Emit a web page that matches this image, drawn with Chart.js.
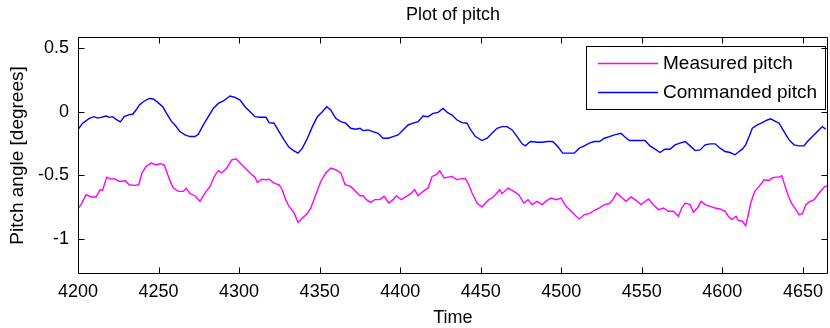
<!DOCTYPE html>
<html>
<head>
<meta charset="utf-8">
<script src="https://cdn.jsdelivr.net/npm/chart.js@4/dist/chart.umd.min.js"></script>
<style>
  html, body { margin: 0; padding: 0; background: #fff; }
  #wrap { width: 830px; height: 328px; }
</style>
</head>
<body>
<div id="wrap"><canvas id="grafico" width="830" height="328"></canvas></div>
<script>
// values
const commandedTime = [
  4200, 4202.9, 4207.0, 4210.1, 4212.2, 4214.3, 4217.4, 4219.4, 4221.5, 4223.6,
  4226.3, 4228.7, 4231.8, 4234.0, 4236.0, 4238.1, 4241.2, 4244.3, 4246.8, 4249.5,
  4252.6, 4254.6, 4257.7, 4260.2, 4263.3, 4266.4, 4269.5, 4272.6, 4274.7, 4277.8,
  4280.9, 4284.0, 4287.1, 4290.2, 4294.4, 4297.5, 4300.6, 4303.7, 4306.8, 4309.9,
  4313.0, 4316.7, 4318.6, 4321.7, 4324.8, 4327.9, 4331.0, 4334.1, 4336.6, 4339.3,
  4342.4, 4345.5, 4348.6, 4351.7, 4354.4, 4356.9, 4360.0, 4363.1, 4366.2, 4369.3,
  4372.4, 4375.1, 4376.9, 4380.0, 4383.1, 4386.3, 4389.4, 4392.5, 4395.6, 4398.7,
  4401.8, 4404.9, 4408.0, 4411.1, 4414.2, 4417.3, 4420.4, 4423.5, 4426.6, 4429.7,
  4432.2, 4435.3, 4438.4, 4441.5, 4443.6, 4446.7, 4450.8, 4454.0, 4457.0, 4460.1,
  4463.2, 4466.3, 4469.5, 4472.6, 4475.7, 4477.7, 4480.8, 4485.0, 4488.1, 4491.2,
  4494.7, 4497.8, 4500.9, 4504.0, 4508.1, 4511.2, 4514.3, 4517.4, 4520.6, 4523.7,
  4526.8, 4529.9, 4533.0, 4537.1, 4539.2, 4542.3, 4545.4, 4549.5, 4552.0, 4555.1,
  4558.2, 4561.3, 4564.4, 4567.5, 4570.6, 4573.7, 4576.9, 4580.0, 4583.1, 4586.2,
  4589.3, 4592.4, 4595.5, 4598.6, 4601.7, 4604.8, 4607.9, 4610.4, 4612.4, 4614.5,
  4616.6, 4618.6, 4621.7, 4624.8, 4627.9, 4630.0, 4633.2, 4635.2, 4638.3, 4641.4,
  4644.5, 4647.6, 4650.7, 4652.8, 4655.9, 4659.0, 4662.1, 4664.2
];
const commandedPitch = [
  -0.14, -0.09, -0.052, -0.039, -0.05, -0.044, -0.034, -0.044, -0.039, -0.06,
  -0.08, -0.039, -0.023, -0.02, 0.013, 0.052, 0.084, 0.104, 0.10, 0.073,
  0.04, -0.005, -0.07, -0.104, -0.156, -0.182, -0.195, -0.195, -0.177, -0.104,
  -0.039, 0.026, 0.065, 0.084, 0.123, 0.112, 0.091, 0.039, 0, -0.039,
  -0.044, -0.044, -0.086, -0.09, -0.156, -0.221, -0.279, -0.307, -0.325, -0.286,
  -0.208, -0.117, -0.039, 0, 0.039, 0.013, -0.052, -0.078, -0.09, -0.13,
  -0.138, -0.13, -0.148, -0.143, -0.156, -0.169, -0.208, -0.208, -0.195, -0.182,
  -0.143, -0.104, -0.09, -0.078, -0.034, -0.039, -0.013, -0.005, 0.026, -0.01,
  -0.026, -0.065, -0.086, -0.09, -0.138, -0.195, -0.226, -0.208, -0.169, -0.13,
  -0.117, -0.117, -0.143, -0.195, -0.252, -0.268, -0.234, -0.239, -0.239, -0.234,
  -0.234, -0.273, -0.325, -0.325, -0.325, -0.286, -0.268, -0.247, -0.234, -0.234,
  -0.208, -0.195, -0.182, -0.169, -0.195, -0.226, -0.226, -0.226, -0.226, -0.268,
  -0.294, -0.32, -0.294, -0.294, -0.26, -0.247, -0.234, -0.268, -0.305, -0.30,
  -0.26, -0.252, -0.252, -0.286, -0.312, -0.32, -0.338, -0.312, -0.294, -0.26,
  -0.195, -0.13, -0.104, -0.086, -0.065, -0.056, -0.078, -0.09, -0.156, -0.221,
  -0.26, -0.268, -0.268, -0.234, -0.195, -0.156, -0.117, -0.138
];
const measuredTime = [
  4200, 4201.9, 4205.0, 4208.1, 4211.2, 4213.7, 4215.3, 4217.8, 4220.5, 4222.5,
  4225.6, 4229.4, 4231.8, 4235.0, 4237.7, 4239.7, 4242.2, 4245.3, 4248.4, 4251.5,
  4253.6, 4255.7, 4257.7, 4259.2, 4262.3, 4265.4, 4267.1, 4269.5, 4272.6, 4275.7,
  4278.8, 4282.0, 4284.6, 4287.1, 4289.2, 4292.3, 4295.4, 4298.1, 4300.6, 4303.7,
  4306.8, 4309.9, 4311.3, 4314.1, 4316.7, 4318.6, 4321.7, 4324.8, 4326.8, 4328.9,
  4331.0, 4334.1, 4336.6, 4339.3, 4342.4, 4344.5, 4347.6, 4350.7, 4353.8, 4356.9,
  4360.0, 4363.1, 4365.8, 4369.3, 4372.4, 4375.1, 4376.9, 4379.0, 4381.7, 4384.2,
  4387.3, 4390.0, 4392.9, 4395.6, 4397.6, 4400.7, 4403.8, 4406.6, 4409.0, 4411.1,
  4414.2, 4417.3, 4419.8, 4422.4, 4424.6, 4427.2, 4429.7, 4432.2, 4435.3, 4438.0,
  4440.5, 4442.6, 4444.6, 4447.7, 4450.8, 4452.9, 4455.0, 4457.0, 4459.1, 4461.8,
  4463.2, 4467.0, 4470.5, 4473.6, 4476.7, 4479.4, 4481.9, 4485.0, 4488.1, 4491.2,
  4493.7, 4496.8, 4499.9, 4503.0, 4506.1, 4509.2, 4511.2, 4514.3, 4517.4, 4520.6,
  4523.7, 4526.8, 4529.9, 4532.0, 4534.4, 4537.1, 4540.2, 4543.3, 4546.4, 4549.5,
  4551.4, 4554.1, 4557.2, 4560.3, 4563.4, 4566.5, 4569.6, 4572.7, 4574.8, 4576.9,
  4580.0, 4582.0, 4584.5, 4586.8, 4589.3, 4592.4, 4595.5, 4598.6, 4601.7, 4603.7,
  4605.8, 4608.5, 4609.7, 4612.4, 4614.5, 4615.9, 4617.6, 4620.1, 4622.8, 4625.9,
  4629.0, 4631.0, 4633.2, 4635.2, 4636.9, 4638.3, 4640.3, 4642.8, 4645.6, 4647.6,
  4649.7, 4651.8, 4653.9, 4657.0, 4660.1, 4663.2, 4665.3
];
const measuredPitch = [
  -0.76, -0.729, -0.651, -0.669, -0.669, -0.612, -0.615, -0.513, -0.529, -0.525,
  -0.547, -0.542, -0.573, -0.578, -0.573, -0.481, -0.43, -0.403, -0.416, -0.408,
  -0.42, -0.494, -0.56, -0.599, -0.625, -0.625, -0.599, -0.643, -0.659, -0.703,
  -0.638, -0.586, -0.508, -0.461, -0.48, -0.442, -0.377, -0.37, -0.403, -0.442,
  -0.481, -0.513, -0.555, -0.53, -0.534, -0.529, -0.56, -0.573, -0.612, -0.69,
  -0.742, -0.794, -0.867, -0.833, -0.799, -0.755, -0.651, -0.547, -0.481, -0.442,
  -0.455, -0.481, -0.573, -0.586, -0.625, -0.659, -0.659, -0.69, -0.711, -0.69,
  -0.69, -0.664, -0.716, -0.69, -0.659, -0.69, -0.664, -0.643, -0.612, -0.659,
  -0.625, -0.599, -0.508, -0.494, -0.463, -0.52, -0.513, -0.508, -0.534, -0.525,
  -0.525, -0.573, -0.638, -0.716, -0.747, -0.716, -0.69, -0.677, -0.651, -0.612,
  -0.643, -0.599, -0.625, -0.651, -0.716, -0.69, -0.729, -0.703, -0.729, -0.695,
  -0.677, -0.69, -0.677, -0.742, -0.781, -0.82, -0.841, -0.807, -0.799, -0.773,
  -0.755, -0.729, -0.72, -0.69, -0.638, -0.669, -0.703, -0.669, -0.695, -0.729,
  -0.71, -0.685, -0.729, -0.768, -0.755, -0.781, -0.781, -0.82, -0.755, -0.716,
  -0.729, -0.789, -0.755, -0.703, -0.729, -0.742, -0.755, -0.763, -0.781, -0.82,
  -0.846, -0.82, -0.851, -0.859, -0.893, -0.82, -0.716, -0.625, -0.586, -0.534,
  -0.539, -0.52, -0.513, -0.513, -0.502, -0.56, -0.638, -0.716, -0.768, -0.807,
  -0.80, -0.729, -0.708, -0.69, -0.638, -0.591, -0.58
];
const xTicks = [4200, 4250, 4300, 4350, 4400, 4450, 4500, 4550, 4600, 4650];
const yTicks = [-1, -0.5, 0, 0.5];
const seriesNames = ["Measured pitch", "Commanded pitch"];

const FONT = "'Liberation Sans', Arial, sans-serif";

function toPoints(xs, ys) {
    return xs.map((x, i) => ({ x: x, y: ys[i] }));
}

// MATLAB-like box with inward ticks on all four sides
const boxPlugin = {
    id: "matlabBox",
    afterDraw(chart) {
        const ctx = chart.ctx;
        const a = chart.chartArea;
        const L = Math.round(a.left) + 0.5, R = Math.round(a.right) - 0.5;
        const T = Math.round(a.top) + 0.5, B = Math.round(a.bottom) - 0.5;
        const len = 6;
        ctx.save();
        ctx.strokeStyle = "#000";
        ctx.lineWidth = 1;
        ctx.beginPath();
        ctx.rect(L, T, R - L, B - T);
        chart.scales.x.ticks.forEach(t => {
            const px = Math.round(chart.scales.x.getPixelForValue(t.value)) + 0.5;
            ctx.moveTo(px, B); ctx.lineTo(px, B - len);
            ctx.moveTo(px, T); ctx.lineTo(px, T + len);
        });
        chart.scales.y.ticks.forEach(t => {
            const py = Math.round(chart.scales.y.getPixelForValue(t.value)) + 0.5;
            ctx.moveTo(L, py); ctx.lineTo(L + len, py);
            ctx.moveTo(R, py); ctx.lineTo(R - len, py);
        });
        ctx.stroke();
        ctx.restore();
    }
};

// legend box drawn inside the axes, top right
const legendPlugin = {
    id: "insideLegend",
    afterDatasetsDraw(chart) {
        const ctx = chart.ctx;
        const a = chart.chartArea;
        const ds = chart.data.datasets;
        ctx.save();
        ctx.font = "19px " + FONT;
        let w = 0;
        ds.forEach(d => { w = Math.max(w, ctx.measureText(d.label).width); });
        const boxW = Math.round(12 + 60 + 5 + w + 8);
        const boxH = 63;
        const x0 = Math.round(a.right) - 3 - boxW;
        const y0 = Math.round(a.top) + 9;
        ctx.fillStyle = "#fff";
        ctx.fillRect(x0, y0, boxW, boxH);
        ctx.strokeStyle = "#000";
        ctx.lineWidth = 1;
        ctx.strokeRect(x0 + 0.5, y0 + 0.5, boxW, boxH);
        ds.forEach((d, i) => {
            const cy = y0 + 17 + i * 29;
            ctx.strokeStyle = d.borderColor;
            ctx.lineWidth = 1.4;
            ctx.beginPath();
            ctx.moveTo(x0 + 12, cy + 0.5);
            ctx.lineTo(x0 + 72, cy + 0.5);
            ctx.stroke();
            ctx.fillStyle = "#000";
            ctx.textBaseline = "middle";
            ctx.fillText(d.label, x0 + 77, cy + 1);
        });
        ctx.restore();
    }
};

const ctx = document.getElementById("grafico").getContext("2d");
const chart = new Chart(ctx, {
    type: "line",
    data: {
        datasets: [
            {
                label: seriesNames[0],
                data: toPoints(measuredTime, measuredPitch),
                borderColor: "#ff00ff",
                borderWidth: 1.4,
                pointRadius: 0,
                tension: 0,
                fill: false
            },
            {
                label: seriesNames[1],
                data: toPoints(commandedTime, commandedPitch),
                borderColor: "#0000ff",
                borderWidth: 1.4,
                pointRadius: 0,
                tension: 0,
                fill: false
            }
        ]
    },
    options: {
        responsive: false,
        animation: false,
        devicePixelRatio: 1,
        layout: { padding: { left: 0, right: 2, top: 0, bottom: 0 } },
        plugins: {
            legend: { display: false },
            tooltip: { enabled: false },
            title: {
                display: true,
                text: "Plot of pitch",
                fullSize: false,
                color: "#000",
                font: { family: FONT, size: 18, weight: "normal" },
                padding: { top: 4, bottom: 11.4 }
            }
        },
        scales: {
            x: {
                type: "linear",
                min: 4200,
                max: 4665.5,
                afterFit: s => { s.height = 54; },
                afterBuildTicks: s => { s.ticks = xTicks.map(v => ({ value: v })); },
                grid: { display: false, drawTicks: false },
                border: { display: false },
                ticks: {
                    color: "#000",
                    padding: 7,
                    maxRotation: 0,
                    font: { family: FONT, size: 18 },
                    callback: v => String(v)
                },
                title: {
                    display: true,
                    text: "Time",
                    color: "#000",
                    font: { family: FONT, size: 18, lineHeight: 1.1 },
                    padding: { top: 0, bottom: 0 }
                }
            },
            y: {
                type: "linear",
                min: -1.273,
                max: 0.586,
                afterFit: s => { s.width = 78; },
                afterBuildTicks: s => { s.ticks = yTicks.map(v => ({ value: v })); },
                grid: { display: false, drawTicks: false },
                border: { display: false },
                ticks: {
                    color: "#000",
                    padding: 9,
                    font: { family: FONT, size: 18 },
                    callback: v => String(v)
                },
                title: {
                    display: true,
                    text: "Pitch angle [degrees]",
                    color: "#000",
                    font: { family: FONT, size: 19 },
                    padding: { top: 6, bottom: 0 }
                }
            }
        }
    },
    plugins: [boxPlugin, legendPlugin]
});
</script>
</body>
</html>
